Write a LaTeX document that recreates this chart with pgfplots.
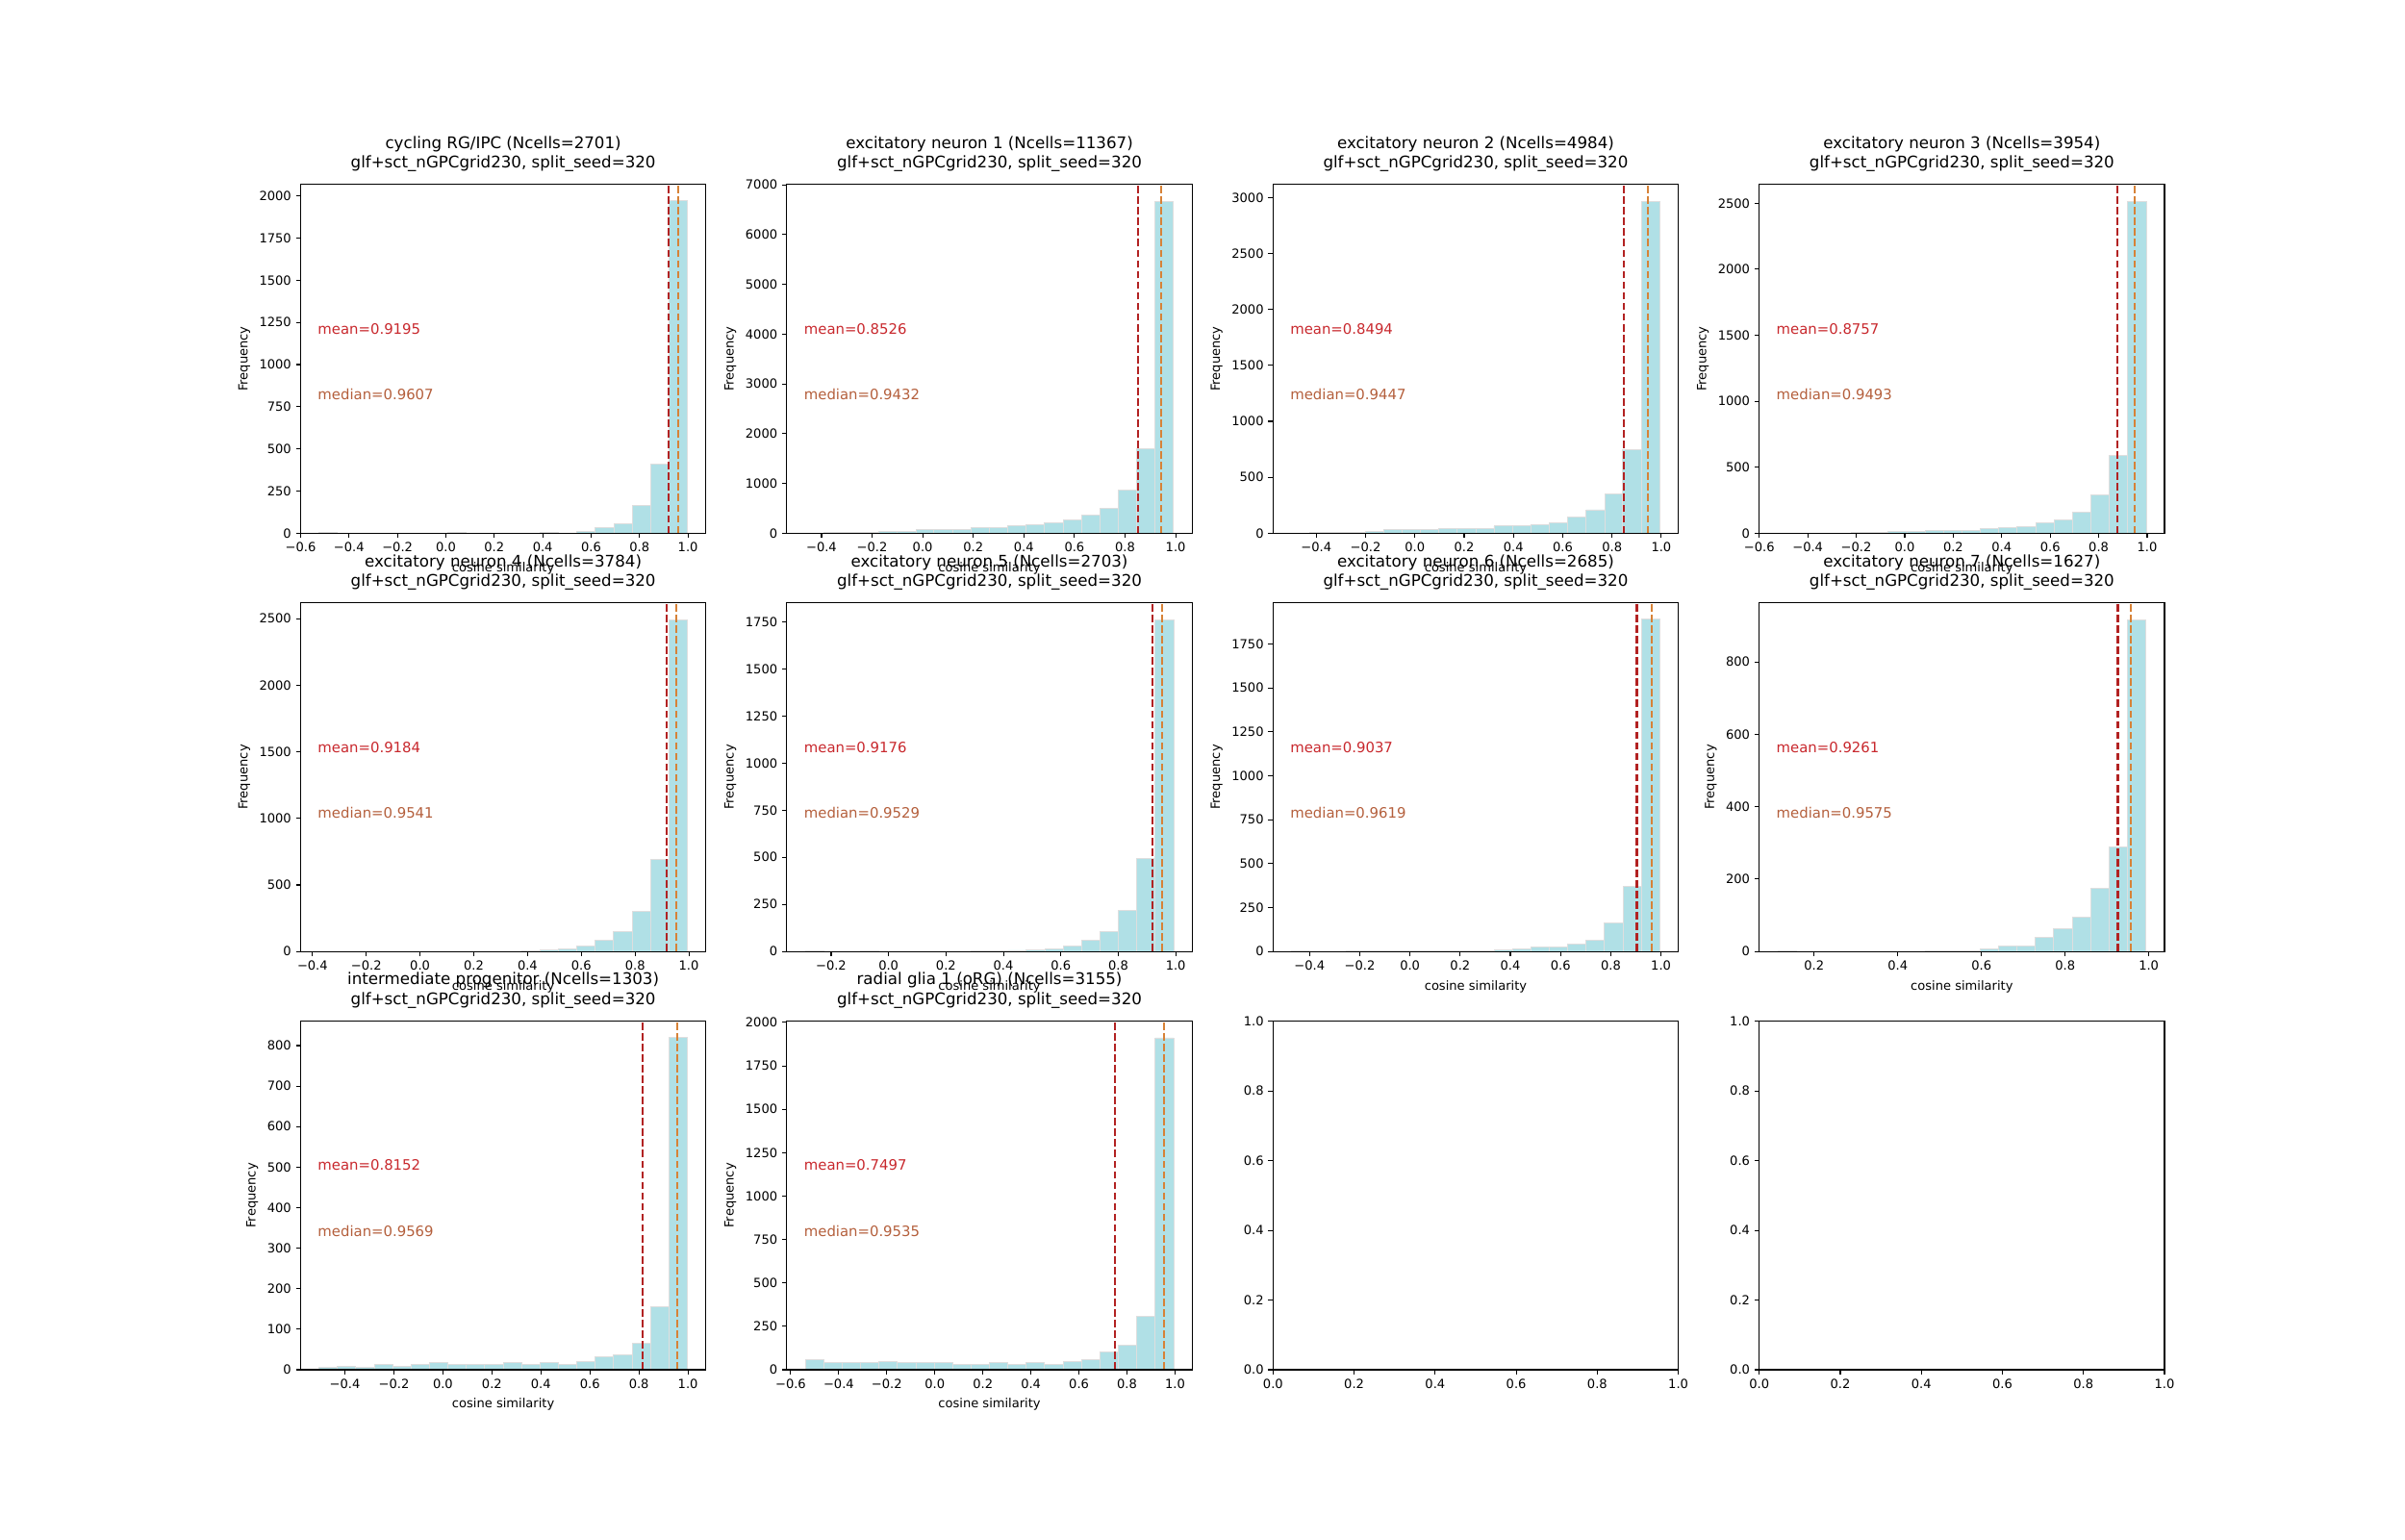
\documentclass[border=0pt]{standalone}
\usepackage{fontspec}
\setmainfont{DejaVu Sans}
\usepackage{pgfplots}
\pgfplotsset{compat=1.18}

\definecolor{barfill}{RGB}{176,224,230}
\definecolor{baredge}{RGB}{222,222,222}
\definecolor{meanline}{RGB}{178,34,34}
\definecolor{medline}{RGB}{215,130,55}
\definecolor{meantext}{RGB}{200,40,45}
\definecolor{medtext}{RGB}{180,95,60}

\newcommand{\tickfont}{\fontsize{9.4}{11}\selectfont}
\newcommand{\annfont}{\fontsize{10.7}{12.5}\selectfont}
\newcommand{\titlefont}{\fontsize{12}{14.85}\selectfont}

\pgfplotsset{
  base/.style={
    scale only axis, width=303.3pt, height=260.9pt, anchor=south west,
    axis line style={line width=0.8pt},
    tick align=outside, major tick length=3.5pt,
    every tick/.append style={line width=0.8pt, black},
    xtick pos=left, ytick pos=left,
    ticklabel style={font=\tickfont},
    ymin=0, axis on top,
  },
  hist/.style={
    base,
    xlabel={cosine similarity}, ylabel={Frequency},
    label style={font=\tickfont},
    xlabel style={at={(axis description cs:0.5,0)}, anchor=base, yshift=-28.7pt},
    title style={at={(axis description cs:0.5,1)}, anchor=south, inner sep=0pt,
                 yshift=3.3pt, align=center, font=\titlefont},
  },
}

\newcommand{\hbars}[1]{\addplot[ybar interval, fill=barfill, draw=baredge, line width=0.7pt] coordinates {#1};}
\newcommand{\stats}[3]{%
  \addplot[meanline, line width=1.5pt, dash pattern=on 5.55pt off 2.4pt] coordinates {(#1,0) (#1,#3)};
  \addplot[medline, line width=1.5pt, dash pattern=on 5.55pt off 2.4pt] coordinates {(#2,0) (#2,#3)};
  \node[anchor=base west, inner sep=0pt, text=meantext, font=\annfont] at (rel axis cs:0.042,0.5714) {mean=#1};
  \node[anchor=base west, inner sep=0pt, text=medtext, font=\annfont] at (rel axis cs:0.042,0.3818) {median=#2};
}

\begin{document}
\begin{tikzpicture}[x=1pt,y=1pt]
\path (0,0) rectangle (1800,1152);

% ---------- Row 1 ----------
\begin{axis}[hist, at={(225pt,752.9pt)},
  title={cycling RG/IPC (Ncells=2701)\\glf+sct\_nGPCgrid230, split\_seed=320},
  xmin=-0.600, xmax=1.074, ymax=2067,
  xtick={-0.6,-0.4,-0.2,0,0.2,0.4,0.6,0.8,1.0},
  xticklabels={−0.6,−0.4,−0.2,0.0,0.2,0.4,0.6,0.8,1.0},
  ytick={0,250,500,750,1000,1250,1500,1750,2000},
  yticklabels={0,250,500,750,1000,1250,1500,1750,2000}]
\hbars{(-0.524,5) (-0.448,0) (-0.372,0) (-0.296,0) (-0.220,0) (-0.143,0) (-0.067,0) (0.009,4) (0.085,0) (0.161,0) (0.237,0) (0.313,0) (0.389,4) (0.465,1) (0.541,12) (0.617,34) (0.694,57) (0.770,162) (0.846,411) (0.922,1970) (0.998,1970)}
\stats{0.9195}{0.9607}{2067}
\end{axis}

\begin{axis}[hist, at={(588.9pt,752.9pt)},
  title={excitatory neuron 1 (Ncells=11367)\\glf+sct\_nGPCgrid230, split\_seed=320},
  xmin=-0.537, xmax=1.065, ymax=7004,
  xtick={-0.4,-0.2,0,0.2,0.4,0.6,0.8,1.0},
  xticklabels={−0.4,−0.2,0.0,0.2,0.4,0.6,0.8,1.0},
  ytick={0,1000,2000,3000,4000,5000,6000,7000},
  yticklabels={0,1000,2000,3000,4000,5000,6000,7000}]
\hbars{(-0.464,3) (-0.391,7) (-0.318,20) (-0.246,25) (-0.173,30) (-0.100,35) (-0.027,64) (0.045,64) (0.118,64) (0.191,116) (0.264,116) (0.336,142) (0.409,161) (0.482,200) (0.555,258) (0.628,355) (0.700,490) (0.773,857) (0.846,1689) (0.919,6671) (0.992,6671)}
\stats{0.8526}{0.9432}{7004}
\end{axis}

\begin{axis}[hist, at={(952.8pt,752.9pt)},
  title={excitatory neuron 2 (Ncells=4984)\\glf+sct\_nGPCgrid230, split\_seed=320},
  xmin=-0.5755, xmax=1.069, ymax=3116,
  xtick={-0.4,-0.2,0,0.2,0.4,0.6,0.8,1.0},
  xticklabels={−0.4,−0.2,0.0,0.2,0.4,0.6,0.8,1.0},
  ytick={0,500,1000,1500,2000,2500,3000},
  yticklabels={0,500,1000,1500,2000,2500,3000}]
\hbars{(-0.501,1) (-0.426,3) (-0.351,9) (-0.277,9) (-0.202,17) (-0.127,29) (-0.052,29) (0.022,29) (0.097,43) (0.172,43) (0.247,43) (0.321,63) (0.396,63) (0.471,77) (0.545,89) (0.620,141) (0.695,209) (0.770,347) (0.844,749) (0.919,2968) (0.994,2968)}
\stats{0.8494}{0.9447}{3116}
\end{axis}

\begin{axis}[hist, at={(1316.7pt,752.9pt)},
  title={excitatory neuron 3 (Ncells=3954)\\glf+sct\_nGPCgrid230, split\_seed=320},
  xmin=-0.600, xmax=1.0715, ymax=2641,
  xtick={-0.6,-0.4,-0.2,0,0.2,0.4,0.6,0.8,1.0},
  xticklabels={−0.6,−0.4,−0.2,0.0,0.2,0.4,0.6,0.8,1.0},
  ytick={0,500,1000,1500,2000,2500},
  yticklabels={0,500,1000,1500,2000,2500}]
\hbars{(-0.524,1) (-0.448,1) (-0.372,2) (-0.296,2) (-0.220,7) (-0.144,7) (-0.068,10) (0.008,15) (0.084,17) (0.160,22) (0.236,22) (0.312,32) (0.388,39) (0.464,46) (0.540,80) (0.616,104) (0.692,160) (0.768,287) (0.844,586) (0.920,2515) (0.996,2515)}
\stats{0.8757}{0.9493}{2641}
\end{axis}

% ---------- Row 2 ----------
\begin{axis}[hist, at={(225pt,439.8pt)},
  title={excitatory neuron 4 (Ncells=3784)\\glf+sct\_nGPCgrid230, split\_seed=320},
  xmin=-0.4442, xmax=1.0633, ymax=2618,
  xtick={-0.4,-0.2,0,0.2,0.4,0.6,0.8,1.0},
  xticklabels={−0.4,−0.2,0.0,0.2,0.4,0.6,0.8,1.0},
  ytick={0,500,1000,1500,2000,2500},
  yticklabels={0,500,1000,1500,2000,2500}]
\hbars{(-0.376,1) (-0.307,0) (-0.239,0) (-0.170,0) (-0.102,0) (-0.033,0) (0.035,0) (0.104,0) (0.172,0) (0.241,0) (0.309,1) (0.378,7) (0.446,10) (0.515,17) (0.583,39) (0.652,82) (0.720,147) (0.789,299) (0.858,689) (0.926,2493) (0.995,2493)}
\stats{0.9184}{0.9541}{2618}
\end{axis}

\begin{axis}[hist, at={(588.9pt,439.8pt)},
  title={excitatory neuron 5 (Ncells=2703)\\glf+sct\_nGPCgrid230, split\_seed=320},
  xmin=-0.3542, xmax=1.057, ymax=1850,
  xtick={-0.2,0,0.2,0.4,0.6,0.8,1.0},
  xticklabels={−0.2,0.0,0.2,0.4,0.6,0.8,1.0},
  ytick={0,250,500,750,1000,1250,1500,1750},
  yticklabels={0,250,500,750,1000,1250,1500,1750}]
\hbars{(-0.290,1) (-0.226,0) (-0.162,0) (-0.098,3) (-0.033,0) (0.031,0) (0.095,0) (0.159,0) (0.223,0) (0.287,1) (0.351,5) (0.416,6) (0.480,10) (0.544,12) (0.608,27) (0.672,61) (0.736,104) (0.800,216) (0.864,495) (0.929,1762) (0.993,1762)}
\stats{0.9176}{0.9529}{1850}
\end{axis}

\begin{axis}[hist, at={(952.8pt,439.8pt)},
  title={excitatory neuron 6 (Ncells=2685)\\glf+sct\_nGPCgrid230, split\_seed=320},
  xmin=-0.5454, xmax=1.0689, ymax=1983,
  xtick={-0.4,-0.2,0,0.2,0.4,0.6,0.8,1.0},
  xticklabels={−0.4,−0.2,0.0,0.2,0.4,0.6,0.8,1.0},
  ytick={0,250,500,750,1000,1250,1500,1750},
  yticklabels={0,250,500,750,1000,1250,1500,1750}]
\hbars{(-0.472,1) (-0.399,0) (-0.325,0) (-0.252,1) (-0.179,5) (-0.105,5) (-0.032,5) (0.042,5) (0.115,5) (0.188,5) (0.262,5) (0.335,11) (0.409,16) (0.482,27) (0.555,27) (0.629,44) (0.702,66) (0.775,164) (0.849,370) (0.922,1889) (0.996,1889)}
\stats{0.9037}{0.9619}{1983}
\end{axis}

\begin{axis}[hist, at={(1316.7pt,439.8pt)},
  title={excitatory neuron 7 (Ncells=1627)\\glf+sct\_nGPCgrid230, split\_seed=320},
  xmin=0.0688, xmax=1.0376, ymax=963,
  xtick={0.2,0.4,0.6,0.8,1.0},
  xticklabels={0.2,0.4,0.6,0.8,1.0},
  ytick={0,200,400,600,800},
  yticklabels={0,200,400,600,800}]
\hbars{(0.113,1) (0.157,0) (0.201,0) (0.245,0) (0.289,0) (0.333,0) (0.377,0) (0.421,0) (0.465,2) (0.509,2) (0.553,3) (0.597,8) (0.641,16) (0.685,16) (0.729,38) (0.773,62) (0.817,96) (0.861,174) (0.905,288) (0.949,917) (0.993,917)}
\stats{0.9261}{0.9575}{963}
\end{axis}

% ---------- Row 3 ----------
\begin{axis}[hist, at={(225pt,126.7pt)},
  title={intermediate progenitor (Ncells=1303)\\glf+sct\_nGPCgrid230, split\_seed=320},
  xmin=-0.5807, xmax=1.0733, ymax=860,
  xtick={-0.4,-0.2,0,0.2,0.4,0.6,0.8,1.0},
  xticklabels={−0.4,−0.2,0.0,0.2,0.4,0.6,0.8,1.0},
  ytick={0,100,200,300,400,500,600,700,800},
  yticklabels={0,100,200,300,400,500,600,700,800}]
\hbars{(-0.506,7) (-0.430,9) (-0.355,7) (-0.280,12) (-0.205,9) (-0.130,14) (-0.055,17) (0.021,12) (0.096,12) (0.171,12) (0.246,17) (0.321,14) (0.396,17) (0.471,12) (0.547,21) (0.622,31) (0.697,38) (0.772,65) (0.847,155) (0.922,819) (0.998,819)}
\stats{0.8152}{0.9569}{860}
\end{axis}

\begin{axis}[hist, at={(588.9pt,126.7pt)},
  title={radial glia 1 (oRG) (Ncells=3155)\\glf+sct\_nGPCgrid230, split\_seed=320},
  xmin=-0.616, xmax=1.0708, ymax=2007,
  xtick={-0.6,-0.4,-0.2,0,0.2,0.4,0.6,0.8,1.0},
  xticklabels={−0.6,−0.4,−0.2,0.0,0.2,0.4,0.6,0.8,1.0},
  ytick={0,250,500,750,1000,1250,1500,1750,2000},
  yticklabels={0,250,500,750,1000,1250,1500,1750,2000}]
\hbars{(-0.539,61) (-0.463,44) (-0.386,44) (-0.309,39) (-0.233,50) (-0.156,44) (-0.079,39) (-0.003,39) (0.074,33) (0.151,28) (0.227,44) (0.304,33) (0.381,44) (0.457,33) (0.534,50) (0.611,61) (0.687,102) (0.764,140) (0.841,307) (0.917,1911) (0.994,1911)}
\stats{0.7497}{0.9535}{2007}
\end{axis}

\begin{axis}[base, at={(952.8pt,126.7pt)},
  xmin=0, xmax=1, ymax=1,
  xtick={0,0.2,0.4,0.6,0.8,1.0}, xticklabels={0.0,0.2,0.4,0.6,0.8,1.0},
  ytick={0,0.2,0.4,0.6,0.8,1.0}, yticklabels={0.0,0.2,0.4,0.6,0.8,1.0}]
\end{axis}

\begin{axis}[base, at={(1316.7pt,126.7pt)},
  xmin=0, xmax=1, ymax=1,
  xtick={0,0.2,0.4,0.6,0.8,1.0}, xticklabels={0.0,0.2,0.4,0.6,0.8,1.0},
  ytick={0,0.2,0.4,0.6,0.8,1.0}, yticklabels={0.0,0.2,0.4,0.6,0.8,1.0}]
\end{axis}

\end{tikzpicture}
\end{document}
